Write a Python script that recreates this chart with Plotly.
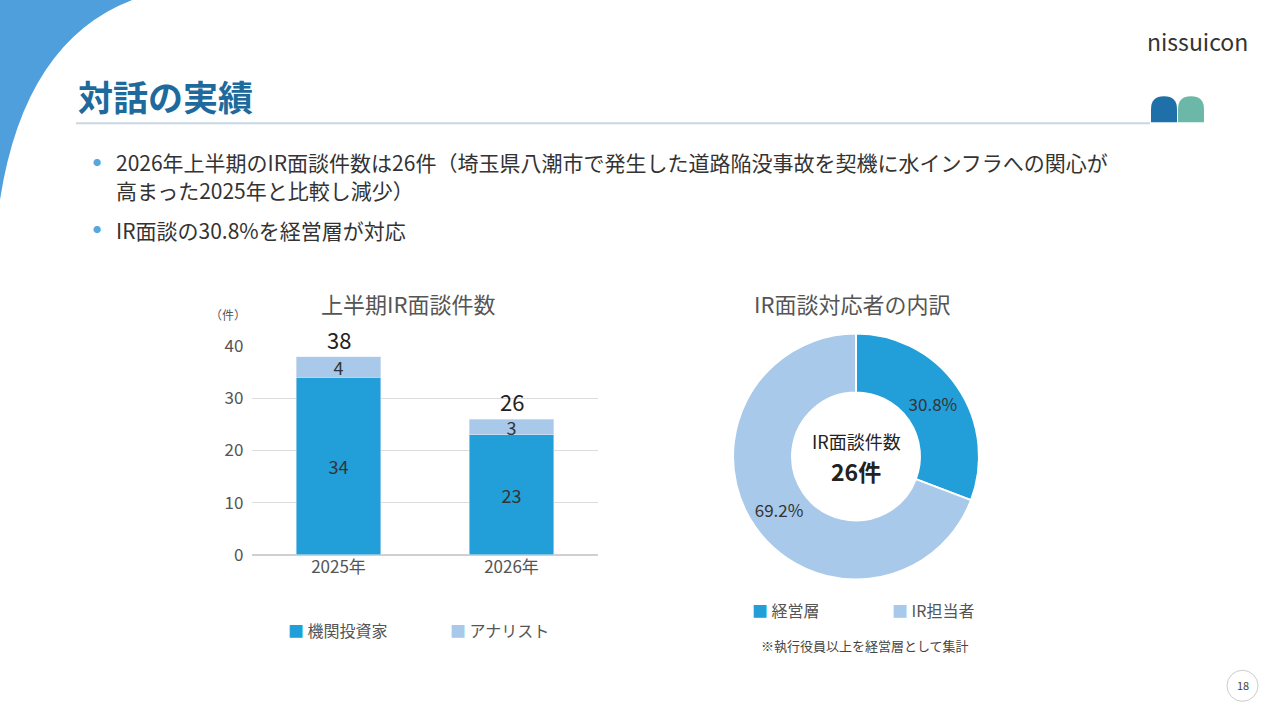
import plotly.graph_objects as go

years = ["2025年", "2026年"]
institutional = [34, 23]
analyst = [4, 3]
totals = [38, 26]
pie_labels = ["経営層", "IR担当者"]
pie_values = [8, 18]
pie_text = ["30.8%", "69.2%"]

W, H = 1280, 720
def px(x): return x / W
def py(y): return 1 - ((y - 15) / 0.962) / H

DARK = "#229fd8"
LIGHT = "#a8c9ea"
FONT = "Noto Sans CJK JP"

fig = go.Figure()
fig.add_trace(go.Bar(x=years, y=institutional, marker_color=DARK, text=institutional,
                     textposition="inside", insidetextanchor="middle", textangle=0,
                     textfont=dict(size=18, color="#333"), width=0.49, name="機関投資家"))
fig.add_trace(go.Bar(x=years, y=analyst, marker_color=LIGHT, text=analyst,
                     textposition="inside", insidetextanchor="middle", textangle=0,
                     textfont=dict(size=18, color="#333"), width=0.49, name="アナリスト"))
for yr, tot in zip(years, totals):
    fig.add_annotation(x=yr, y=tot, xref="x", yref="y", text=str(tot), showarrow=False,
                       yanchor="bottom", yshift=0, font=dict(size=22, color="#222", family=FONT))
fig.add_trace(go.Pie(labels=pie_labels, values=pie_values, text=pie_text, textinfo="text",
                     hole=0.52, sort=False, direction="clockwise", rotation=0,
                     marker=dict(colors=[DARK, LIGHT], line=dict(color="white", width=2)),
                     textposition="inside", insidetextorientation="horizontal",
                     textfont=dict(size=17, color="#333"),
                     domain=dict(x=[px(733), px(979)], y=[py(579), py(333)])))

fig.update_layout(
    width=W, height=H, margin=dict(l=0, r=0, t=0, b=0),
    paper_bgcolor="white", plot_bgcolor="white", showlegend=False, barmode="stack",
    uniformtext=dict(minsize=17, mode="show"),
    font=dict(family=FONT, color="#555"),
    xaxis=dict(domain=[px(252), px(598)], showgrid=False, showline=False, ticks="",
               tickfont=dict(size=17, color="#555")),
    yaxis=dict(domain=[py(554), py(346)], range=[0, 40], dtick=10, gridcolor="#dcdcdc",
               zeroline=True, zerolinecolor="#d0d0d0", showline=False,
               tickfont=dict(size=17, color="#555"), ticksuffix="  "),
)

shapes = [
    dict(type="path", xref="paper", yref="paper",
         path=f"M {px(0)},{py(0)} L {px(135)},{py(0)} Q {px(25)},{py(40)} {px(0)},{py(200)} Z",
         fillcolor="#4f9fdc", line_width=0, layer="below"),
    dict(type="line", xref="paper", yref="paper", x0=px(76), x1=px(1150), y0=py(124), y1=py(124),
         line=dict(color="#c8d8e4", width=2)),
    dict(type="path", xref="paper", yref="paper",
         path=f"M {px(1151)},{py(123)} L {px(1151)},{py(110)} Q {px(1151)},{py(97)} {px(1164)},{py(97)} Q {px(1177)},{py(97)} {px(1177)},{py(110)} L {px(1177)},{py(123)} Z",
         fillcolor="#1f6fa8", line_width=0),
    dict(type="path", xref="paper", yref="paper",
         path=f"M {px(1178)},{py(123)} L {px(1178)},{py(110)} Q {px(1178)},{py(97)} {px(1191)},{py(97)} Q {px(1204)},{py(97)} {px(1204)},{py(110)} L {px(1204)},{py(123)} Z",
         fillcolor="#6cb8a8", line_width=0),
    dict(type="circle", xref="paper", yref="paper", x0=px(1227), x1=px(1258), y0=py(700), y1=py(669),
         line=dict(color="#cccccc", width=1), fillcolor="white"),
]
fig.update_layout(shapes=shapes)

def ann(x, y, text, size, color="#444", xanchor="left", **kw):
    fig.add_annotation(x=px(x), y=py(y), xref="paper", yref="paper", text=text, showarrow=False,
                       xanchor=xanchor, yanchor="middle", font=dict(size=size, color=color, family=FONT), **kw)

ann(76, 96, "<b>対話の実績</b>", 35, "#1e6a9c")
ann(1250, 42, "nissuicon", 23, "#333", xanchor="right")
ann(97, 163, "●", 8, "#5aa6dc", xanchor="center")
ann(114, 162, "2026年上半期のIR面談件数は26件（埼玉県八潮市で発生した道路陥没事故を契機に水インフラへの関心が", 21, "#333")
ann(114, 190, "高まった2025年と比較し減少）", 21, "#333")
ann(97, 230, "●", 8, "#5aa6dc", xanchor="center")
ann(114, 230, "IR面談の30.8%を経営層が対応", 21, "#333")
ann(408, 303, "上半期IR面談件数", 22, "#555", xanchor="center")
ann(852, 303, "IR面談対応者の内訳", 22, "#555", xanchor="center")
ann(228, 314, "（件）", 12, "#555", xanchor="center")
ann(856, 441, "IR面談件数", 18, "#222", xanchor="center")
ann(856, 470, "<b>26件</b>", 23, "#222", xanchor="center")
ann(286, 629, "<span style='color:%s'>■</span> 機関投資家" % DARK, 16, "#555")
ann(448, 629, "<span style='color:%s'>■</span> アナリスト" % LIGHT, 16, "#555")
ann(750, 609, "<span style='color:%s'>■</span> 経営層" % DARK, 16, "#555")
ann(890, 609, "<span style='color:%s'>■</span> IR担当者" % LIGHT, 16, "#555")
ann(865, 644, "※執行役員以上を経営層として集計", 13, "#444", xanchor="center")
ann(1243, 684, "18", 11, "#444", xanchor="center")

fig.write_html("out.html", config={"responsive": False, "displayModeBar": False},
               post_script="document.documentElement.style.margin='0';document.body.style.margin='0';"
                           "document.body.style.overflow='hidden';")
